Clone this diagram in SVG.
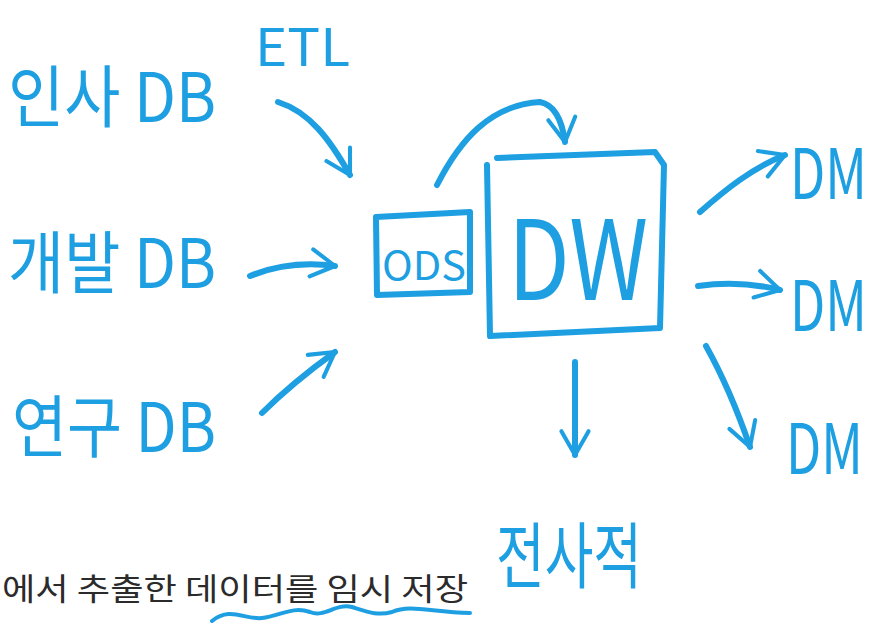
<svg xmlns="http://www.w3.org/2000/svg" width="884" height="627" viewBox="0 0 884 627">
<defs>
<style>
.hw{fill:#1d9fe2;font-family:"Noto Sans CJK KR","Noto Sans",sans-serif;font-weight:400}
.ln{fill:none;stroke:#1d9fe2;stroke-width:6;stroke-linecap:round;stroke-linejoin:round}
.cap{fill:#2b2b2b;font-family:"Noto Sans CJK KR","Noto Sans",sans-serif;font-size:31px}
</style>
<marker id="ah" viewBox="0 0 20 20" refX="16" refY="10" markerWidth="34" markerHeight="34" markerUnits="userSpaceOnUse" orient="auto">
<path d="M2,2 L16,10 L2,18" fill="none" stroke="#1d9fe2" stroke-width="2.4" stroke-linecap="round" stroke-linejoin="round"/>
</marker>
</defs>
<rect width="884" height="627" fill="#ffffff"/>
<g id="src-hr"><text class="hw" x="8" y="122" font-size="68" textLength="208" lengthAdjust="spacingAndGlyphs">인사 DB</text></g>
<g id="src-dev"><text class="hw" x="8" y="288" font-size="68" textLength="208" lengthAdjust="spacingAndGlyphs">개발 DB</text></g>
<g id="src-rnd"><text class="hw" x="12" y="452" font-size="68" textLength="204" lengthAdjust="spacingAndGlyphs">연구 DB</text></g>
<g id="etl"><text class="hw" x="255" y="66" font-size="52" textLength="95" lengthAdjust="spacingAndGlyphs">ETL</text></g>
<g id="ods">
<path class="ln" d="M376,217 L470,212 L470,292 L377,295 Z"/>
<text class="hw" x="382" y="280" font-size="40" textLength="84" lengthAdjust="spacingAndGlyphs">ODS</text>
</g>
<g id="dw">
<path class="ln" d="M497,158 L655,152 L664,165 L660,328 L490,336 L487,165"/>
<text class="hw" x="508" y="300" font-size="110" textLength="140" lengthAdjust="spacingAndGlyphs">DW</text>
</g>
<g id="dm1"><text class="hw" font-size="54" transform="translate(790,199) scale(0.95,1.3)">DM</text></g>
<g id="dm2"><text class="hw" font-size="54" transform="translate(790,331) scale(0.95,1.3)">DM</text></g>
<g id="dm3"><text class="hw" font-size="54" transform="translate(786,474) scale(0.95,1.3)">DM</text></g>
<g id="enterprise"><text class="hw" x="496" y="582" font-size="72" textLength="146" lengthAdjust="spacingAndGlyphs">전사적</text></g>
<g id="caption">
<text class="cap" x="2" y="600" textLength="466" lengthAdjust="spacingAndGlyphs">에서 추출한 데이터를 임시 저장</text>
<path d="M212,621 C230,606 245,620 262,618 C280,616 292,606 310,612 C325,618 335,603 352,607 C368,612 378,616 392,612 C410,604 430,612 470,613" fill="none" stroke="#1d9fe2" stroke-width="4" stroke-linecap="round"/>
</g>
<g id="connectors">
<path class="ln" marker-end="url(#ah)" d="M278,102 C310,112 330,140 350,175"/>
<path class="ln" marker-end="url(#ah)" d="M250,276 C275,266 305,262 335,266"/>
<path class="ln" marker-end="url(#ah)" d="M262,413 C285,390 310,370 335,352"/>
<path class="ln" marker-end="url(#ah)" d="M437,185 C460,140 490,105 540,102 C555,105 562,120 565,142"/>
<path class="ln" marker-end="url(#ah)" d="M700,212 C725,190 752,168 785,155"/>
<path class="ln" marker-end="url(#ah)" d="M698,286 C725,282 752,283 780,290"/>
<path class="ln" marker-end="url(#ah)" d="M706,346 C725,380 738,412 750,447"/>
<path class="ln" marker-end="url(#ah)" d="M575,362 L575,455"/>
</g>
</svg>
